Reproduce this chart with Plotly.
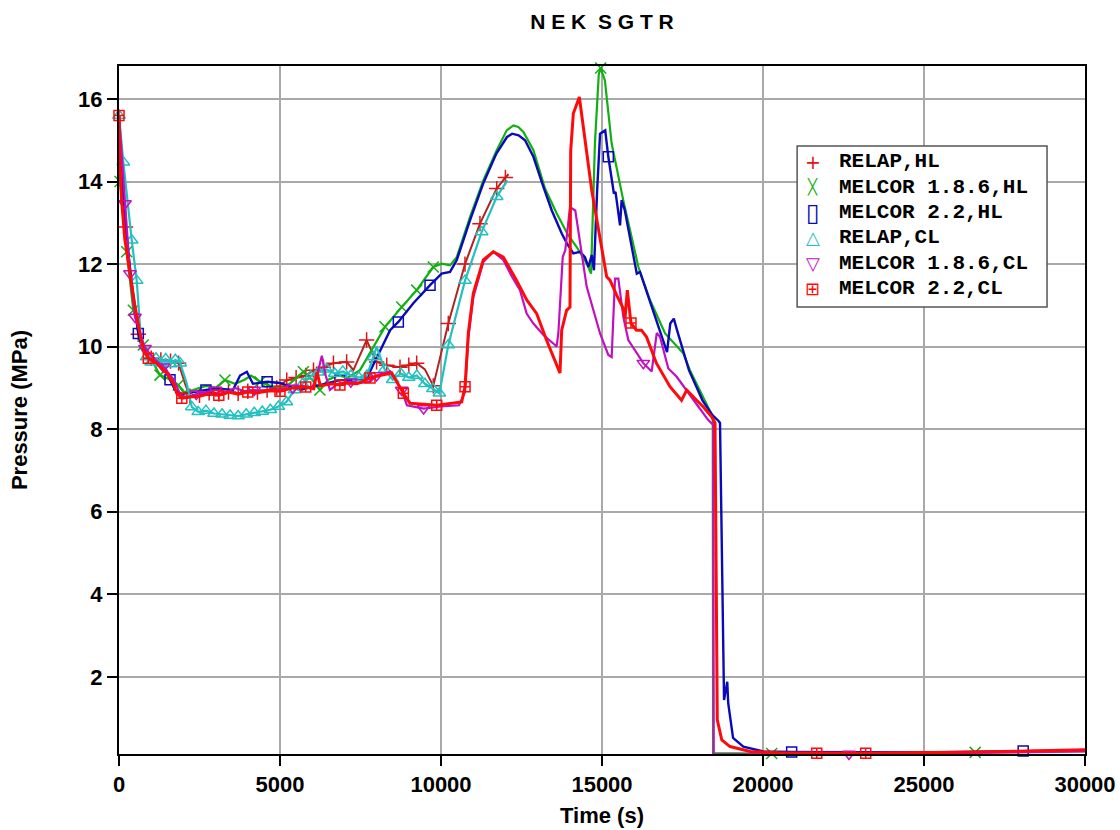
import plotly.graph_objects as go

# ---- time (s) / pressure (MPa) histories ----
RELAP_HL_T = [0, 60, 200, 400, 600, 800, 1000, 1300, 1600, 1850,
              2050, 2200, 2500, 2800, 3100, 3400, 3700, 4000, 4300, 4600,
              4900, 5210, 5500, 5800, 6040, 6350, 6660, 7070, 7280, 7590,
              7690, 8000, 8315, 8727, 9000, 9245, 9500, 9760, 10227, 10745,
              11210, 11730, 12000, 12100]
RELAP_HL_P = [15.6, 14.4, 12.9, 11.4, 10.3, 9.85, 9.72, 9.68, 9.65, 9.6,
              9.1, 8.8, 8.82, 8.88, 8.85, 8.9, 8.87, 8.92, 8.9, 8.95,
              9.0, 9.19, 9.25, 9.3, 9.43, 9.5, 9.6, 9.63, 9.43, 10.0,
              10.16, 9.63, 9.55, 9.5, 9.55, 9.6, 9.45, 9.05, 10.56, 12.0,
              12.98, 13.83, 14.1, 14.18]
RELAP_HL_MK = [200, 600, 1000, 1300, 1600, 1850, 2200, 2500, 2800, 3100,
               3400, 3700, 4000, 4300, 4600, 4900, 5210, 5500, 5800, 6040,
               6350, 6660, 7070, 7690, 8000, 8315, 8727, 9000, 9245, 9760,
               10227, 10745, 11210, 11730, 12000]

M186_HL_T = [0, 31, 240, 445, 755, 1000, 1273, 1600, 1840, 2000,
             2300, 2700, 3000, 3290, 3600, 3900, 4100, 4380, 4700, 5000,
             5300, 5725, 6000, 6240, 6500, 6800, 7100, 7485, 7900, 8260,
             8780, 9245, 9760, 10020, 10280, 10490, 10900, 11315, 11730, 12040,
             12250, 12400, 12560, 12870, 13230, 13590, 13950, 14210, 14530, 14660,
             14780, 14900, 14960, 15090, 15300, 15660, 16130, 16490, 16960, 17525,
             17730, 18147, 18440, 18450, 20270, 23000, 26590, 30000]
M186_HL_P = [15.6, 14.0, 12.3, 10.88, 10.04, 9.7, 9.31, 9.2, 9.07, 8.9,
             8.95, 9.05, 9.0, 9.19, 9.1, 9.2, 9.3, 9.15, 9.05, 9.0,
             9.1, 9.39, 9.2, 8.95, 9.2, 9.3, 9.25, 9.43, 10.0, 10.48,
             10.96, 11.37, 11.93, 12.01, 11.97, 12.17, 13.14, 14.03, 14.76, 15.24,
             15.36, 15.32, 15.2, 14.76, 13.83, 13.23, 12.7, 12.42, 12.01, 11.77,
             14.92, 16.6, 16.75, 16.45, 14.92, 13.55, 11.93, 11.13, 10.32, 9.84,
             9.43, 8.78, 8.3, 0.15, 0.14, 0.15, 0.17, 0.2]
M186_HL_MK = [31, 240, 445, 755, 1273, 1840, 3290, 4380, 5725, 6240,
              8260, 8780, 9245, 9760, 14960, 20270, 26590]

M22_HL_T = [0, 60, 150, 300, 450, 600, 705, 900, 1200, 1430,
            1584, 1740, 1950, 2300, 2700, 3100, 3540, 3760, 3970, 4160,
            4600, 5000, 5620, 6030, 6450, 6860, 7485, 7690, 7890, 8110,
            8420, 8675, 9140, 9660, 10020, 10280, 10490, 10900, 11310, 11720,
            12050, 12210, 12410, 12610, 12870, 13180, 13440, 13750, 13910, 14110,
            14317, 14470, 14580, 14680, 14750, 14850, 14940, 15100, 15196, 15370,
            15420, 15560, 15610, 15710, 15820, 16080, 16180, 17020, 17120, 17230,
            17330, 17700, 18120, 18430, 18620, 18665, 18790, 18890, 18920, 19070,
            19390, 20010, 20890, 25000, 28080, 30000]
M22_HL_P = [15.6, 14.5, 13.4, 12.2, 11.2, 10.32, 10.0, 9.85, 9.65, 9.51,
            9.2, 8.95, 8.85, 8.9, 8.95, 8.98, 8.95, 9.3, 9.39, 9.1,
            9.15, 9.12, 8.95, 9.03, 9.11, 9.19, 9.19, 9.23, 9.55, 9.9,
            10.4, 10.6, 11.05, 11.49, 11.77, 11.81, 12.1, 13.06, 13.95, 14.68,
            15.08, 15.16, 15.12, 15.0, 14.6, 13.87, 13.3, 12.74, 12.5, 12.26,
            12.3, 12.17, 11.93, 12.22, 11.85, 13.8, 15.16, 15.24, 14.6, 13.71,
            13.75, 12.94, 13.55, 13.3, 12.82, 11.77, 11.81, 9.87, 10.56, 10.68,
            10.4, 9.43, 8.7, 8.34, 8.2, 8.15, 1.44, 1.88, 1.36, 0.52,
            0.31, 0.19, 0.18, 0.17, 0.2, 0.22]
M22_HL_MK = [600, 1584, 2700, 4600, 6860, 8675, 9660, 15196, 20890, 28080]

RELAP_CL_T = [0, 135, 395, 550, 705, 860, 1000, 1150, 1300, 1450,
              1600, 1750, 1900, 2100, 2260, 2460, 2700, 2950, 3200, 3450,
              3700, 3950, 4200, 4450, 4700, 4950, 5200, 5450, 5700, 5950,
              6200, 6450, 6700, 6950, 7200, 7450, 7700, 7900, 8000, 8250,
              8500, 8750, 9000, 9250, 9500, 9750, 9950, 10227, 10745, 11264,
              11730, 12060]
RELAP_CL_P = [15.6, 14.47, 12.58, 11.6, 9.92, 9.75, 9.62, 9.72, 9.6, 9.7,
              9.58, 9.68, 9.6, 9.12, 8.54, 8.42, 8.45, 8.38, 8.36, 8.33,
              8.32, 8.36, 8.4, 8.43, 8.47, 8.55, 8.66, 8.95, 9.1, 9.28,
              9.38, 9.45, 9.35, 9.4, 9.3, 9.25, 9.3, 9.75, 10.0, 9.45,
              9.2, 9.35, 9.25, 9.3, 9.1, 8.98, 8.87, 10.04, 11.6, 12.78,
              13.63, 14.03]
RELAP_CL_MK = [0, 135, 395, 550, 860, 1000, 1150, 1300, 1450, 1600,
               1750, 1900, 2260, 2460, 2700, 2950, 3200, 3450, 3700, 3950,
               4200, 4450, 4700, 4950, 5200, 5450, 5700, 5950, 6200, 6450,
               6700, 6950, 7200, 7450, 7700, 7900, 8250, 8500, 8750, 9000,
               9250, 9500, 9750, 9950, 10227, 10745, 11264, 11730]

M186_CL_T = [0, 186, 342, 497, 807, 1100, 1376, 1700, 1900, 2100,
             2400, 2700, 3000, 3300, 3600, 3900, 4200, 4500, 4800, 5100,
             5400, 5700, 6000, 6150, 6300, 6420, 6550, 6800, 7200, 7500,
             7795, 8000, 8420, 8780, 8940, 9460, 10000, 10560, 10746, 10848,
             11003, 11314, 11624, 11935, 12200, 12453, 12660, 12870, 13180, 13540,
             13590, 13644, 13780, 13860, 14006, 14170, 14525, 14940, 15196, 15300,
             15404, 15507, 15662, 15817, 16025, 16284, 16543, 16700, 16801, 17060,
             17320, 17630, 17990, 18300, 18456, 18470, 18800, 20000, 22670, 26000,
             30000]
M186_CL_P = [15.6, 13.47, 11.77, 10.72, 9.96, 9.7, 9.51, 9.2, 8.85, 8.75,
             8.85, 8.9, 8.95, 8.88, 9.0, 8.92, 8.95, 8.9, 8.95, 8.98,
             9.0, 9.05, 9.0, 9.3, 9.78, 9.3, 8.95, 9.1, 9.15, 9.12,
             9.15, 9.3, 9.4, 8.95, 8.58, 8.5, 8.55, 8.58, 8.9, 10.2,
             11.2, 12.05, 12.3, 12.1, 11.7, 11.37, 10.8, 10.56, 10.28, 10.04,
             10.0, 10.32, 12.17, 12.34, 13.38, 13.3, 11.45, 10.32, 9.8, 9.75,
             11.65, 11.65, 10.72, 10.16, 9.92, 9.6, 9.4, 10.33, 10.24, 9.47,
             9.27, 8.95, 8.55, 8.22, 8.1, 0.13, 0.12, 0.12, 0.13, 0.15,
             0.19]
M186_CL_MK = [186, 342, 497, 807, 1376, 2400, 3000, 4200, 5400, 7200,
              8000, 8780, 9460, 16284, 18800, 22670]

M22_CL_T = [0, 30, 80, 180, 340, 500, 650, 760, 910, 1170,
            1480, 1690, 1790, 1950, 2200, 2500, 2800, 3100, 3400, 3700,
            4000, 4300, 4600, 5000, 5400, 5800, 6050, 6150, 6250, 6600,
            6860, 7000, 7400, 7795, 8100, 8470, 8830, 9037, 9867, 10643,
            10746, 10848, 11003, 11314, 11624, 11935, 12351, 12662, 12972, 13283,
            13696, 13748, 13900, 14006, 14028, 14110, 14296, 14627, 14681, 15146,
            15248, 15455, 15662, 15714, 15786, 15900, 16070, 16225, 16380, 16690,
            17112, 17470, 17630, 17940, 18137, 18407, 18510, 18580, 18720, 18975,
            19600, 20500, 21670, 23190, 26000, 30000]
M22_CL_P = [15.6, 14.5, 13.55, 12.6, 11.78, 10.96, 10.33, 9.92, 9.72, 9.6,
            9.36, 9.11, 8.87, 8.75, 8.78, 8.8, 8.86, 8.82, 8.9, 8.85,
            8.9, 8.88, 8.93, 8.92, 9.0, 9.02, 8.98, 9.39, 9.05, 9.1,
            9.07, 9.12, 9.1, 9.24, 9.3, 9.36, 8.87, 8.63, 8.58, 8.66,
            9.03, 10.33, 11.29, 12.1, 12.3, 12.17, 11.6, 11.13, 10.8, 10.15,
            9.36, 10.4, 10.88, 10.96, 14.75, 15.65, 16.05, 14.1, 13.79, 11.69,
            11.61, 11.25, 10.92, 10.68, 11.37, 10.57, 10.4, 10.4, 10.24, 9.6,
            9.03, 8.7, 8.95, 8.7, 8.55, 8.3, 8.15, 0.96, 0.47, 0.31,
            0.19, 0.16, 0.15, 0.15, 0.17, 0.23]
M22_CL_MK = [0, 910, 1950, 3100, 4000, 5000, 5800, 6860, 7795, 8830,
             9867, 10746, 15900, 21670, 23190]

X_TICKS = [0, 5000, 10000, 15000, 20000, 25000, 30000]
Y_TICKS = [2, 4, 6, 8, 10, 12, 14, 16]

# name, times, pressures, marked times, line colour, line width,
# marker colour, plot symbol, marker size, key glyph, key glyph size
SERIES = [
    ("RELAP,HL", RELAP_HL_T, RELAP_HL_P, RELAP_HL_MK, "#b52222", 2.0, "#dd1515", "cross-thin-open", 11, "+", 19),
    ("MELCOR 1.8.6,HL", M186_HL_T, M186_HL_P, M186_HL_MK, "#10b010", 2.2, "#10b010", "x-thin-open", 11, "\u2573", 15),
    ("MELCOR 2.2,HL", M22_HL_T, M22_HL_P, M22_HL_MK, "#0a0ab8", 2.4, "#0a0ab8", "square-open", 10, "\u25af", 25),
    ("RELAP,CL", RELAP_CL_T, RELAP_CL_P, RELAP_CL_MK, "#22c0c0", 2.2, "#22c0c0", "triangle-up-open", 11, "\u25b3", 18),
    ("MELCOR 1.8.6,CL", M186_CL_T, M186_CL_P, M186_CL_MK, "#c010c0", 2.2, "#c010c0", "triangle-down-open", 11, "\u25bd", 18),
    ("MELCOR 2.2,CL", M22_CL_T, M22_CL_P, M22_CL_MK, "#ff0a0a", 3.0, "#ff0a0a", "square-cross-open", 10, "\u229e", 18),
]


def marked(ts, ps, marks):
    keep = set(marks)
    pts = [(t, p) for t, p in zip(ts, ps) if t in keep]
    return [t for t, _ in pts], [p for _, p in pts]


fig = go.Figure()
for name, ts, ps, mk, lc, lw, mc, sym, ms, _g, _gs in SERIES:
    fig.add_trace(go.Scatter(
        x=ts, y=ps, mode="lines", name=name, legendgroup=name,
        showlegend=False, line=dict(color=lc, width=lw),
    ))
    mx, my = marked(ts, ps, mk)
    fig.add_trace(go.Scatter(
        x=mx, y=my, mode="markers", name=name, legendgroup=name,
        showlegend=False, cliponaxis=False,
        marker=dict(symbol=sym, size=ms, color=mc, line=dict(color=mc, width=1.5)),
    ))

SANS = "Liberation Sans Narrow, Arial Narrow, Liberation Sans, Arial, sans-serif"
tick_font = dict(family=SANS, size=22, color="black", weight="bold")
label_font = dict(family=SANS, size=22, color="black", weight="bold")

axis_common = dict(
    showgrid=True, gridcolor="#a9a9a9", gridwidth=1.5,
    showline=True, linecolor="black", linewidth=2, mirror=True,
    ticks="outside", ticklen=10, tickwidth=1.5, tickcolor="black",
    zeroline=False, tickfont=tick_font, automargin=False,
)

# ---- key box (paper coordinates of the plot area) ----
KEY_X0, KEY_X1 = 0.702, 0.9607
KEY_Y0, KEY_Y1 = 0.6497, 0.8837
KEY_GLYPH_X, KEY_TEXT_X = 0.718, 0.743
KEY_ROW0, KEY_STEP = 0.8605, 0.0368

shapes = [dict(
    type="rect", xref="paper", yref="paper",
    x0=KEY_X0, x1=KEY_X1, y0=KEY_Y0, y1=KEY_Y1,
    line=dict(color="#555555", width=1.5), fillcolor="white", layer="above",
)]
annotations = []
for i, s in enumerate(SERIES):
    name, mc, glyph, gsize = s[0], s[6], s[9], s[10]
    yk = KEY_ROW0 - i * KEY_STEP
    annotations.append(dict(
        xref="paper", yref="paper", x=KEY_GLYPH_X, y=yk,
        xanchor="center", yanchor="middle", showarrow=False, text=glyph,
        font=dict(family="DejaVu Sans", size=gsize, color=mc),
    ))
    annotations.append(dict(
        xref="paper", yref="paper", x=KEY_TEXT_X, y=yk,
        xanchor="left", yanchor="middle", showarrow=False, text=name,
        font=dict(family="Courier New, Liberation Mono, monospace", size=21,
                  color="black", weight="bold"),
    ))

fig.update_layout(
    width=1120, height=830,
    margin=dict(l=119, r=35, t=66, b=76),
    paper_bgcolor="white", plot_bgcolor="white",
    showlegend=False,
    title=dict(
        text="N E K  S G T R", x=0.5, xref="paper", xanchor="center",
        y=1 - 22 / 830, yanchor="middle",
        font=dict(family=SANS, size=21, color="black", weight="bold"),
    ),
    xaxis=dict(
        range=[0, 30000], tickvals=X_TICKS, ticktext=[str(v) for v in X_TICKS],
        title=dict(text="Time (s)", font=label_font, standoff=11),
        **axis_common,
    ),
    yaxis=dict(
        range=[0.13, 16.8], tickvals=Y_TICKS, ticktext=[str(v) for v in Y_TICKS],
        title=dict(text="Pressure (MPa)", font=label_font, standoff=44),
        **axis_common,
    ),
    shapes=shapes,
    annotations=annotations,
)

fig.write_html("out.html")
